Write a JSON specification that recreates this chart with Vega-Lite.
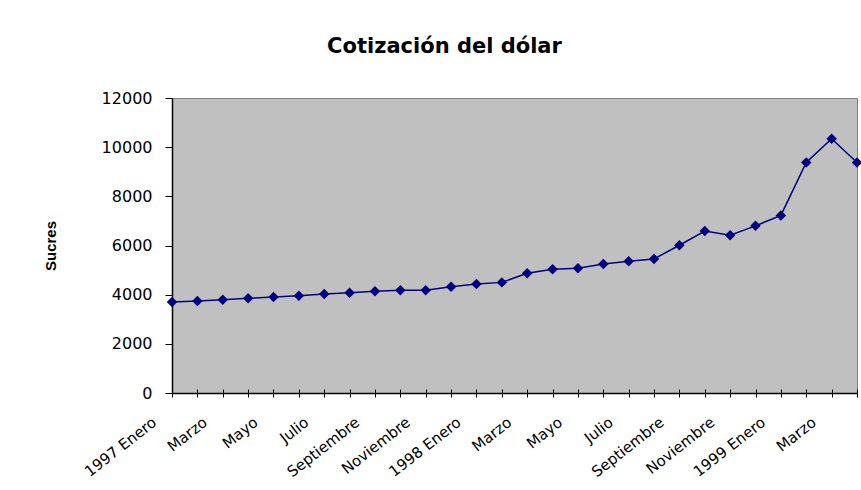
{
  "$schema": "https://vega.github.io/schema/vega-lite/v6.json",
  "autosize": {"type": "none"},
  "width": 685,
  "height": 295,
  "padding": {"left": 172, "top": 98, "right": 4, "bottom": 97},
  "background": "white",
  "title": {
    "text": "Cotización del dólar",
    "font": "DejaVu Sans",
    "fontSize": 21,
    "fontWeight": "bold",
    "color": "black",
    "anchor": "middle",
    "frame": "group",
    "baseline": "alphabetic",
    "offset": 16,
    "dx": -70
  },
  "config": {
    "view": {"fill": "#C0C0C0", "stroke": "#808080", "strokeWidth": 1},
    "axis": {"grid": false}
  },
  "data": {
    "values": [
      {"mes": "1997 Enero", "sucres": 3700},
      {"mes": "1997 Febrero", "sucres": 3740},
      {"mes": "1997 Marzo", "sucres": 3795},
      {"mes": "1997 Abril", "sucres": 3850},
      {"mes": "1997 Mayo", "sucres": 3905},
      {"mes": "1997 Junio", "sucres": 3960},
      {"mes": "1997 Julio", "sucres": 4025},
      {"mes": "1997 Agosto", "sucres": 4080},
      {"mes": "1997 Septiembre", "sucres": 4135},
      {"mes": "1997 Octubre", "sucres": 4175},
      {"mes": "1997 Noviembre", "sucres": 4175},
      {"mes": "1997 Diciembre", "sucres": 4325},
      {"mes": "1998 Enero", "sucres": 4435},
      {"mes": "1998 Febrero", "sucres": 4500},
      {"mes": "1998 Marzo", "sucres": 4870},
      {"mes": "1998 Abril", "sucres": 5035},
      {"mes": "1998 Mayo", "sucres": 5075},
      {"mes": "1998 Junio", "sucres": 5250},
      {"mes": "1998 Julio", "sucres": 5360},
      {"mes": "1998 Agosto", "sucres": 5455},
      {"mes": "1998 Septiembre", "sucres": 6010},
      {"mes": "1998 Octubre", "sucres": 6585},
      {"mes": "1998 Noviembre", "sucres": 6420},
      {"mes": "1998 Diciembre", "sucres": 6800},
      {"mes": "1999 Enero", "sucres": 7225},
      {"mes": "1999 Febrero", "sucres": 9375},
      {"mes": "1999 Marzo", "sucres": 10340},
      {"mes": "1999 Abril", "sucres": 9375}
    ]
  },
  "layer": [
    {
      "mark": {"type": "line", "color": "#000080", "strokeWidth": 1.5},
      "encoding": {
        "x": {
          "field": "mes",
          "type": "ordinal",
          "sort": null,
          "scale": {"type": "point", "padding": 0},
          "axis": {
            "orient": "bottom",
            "title": null,
            "domainColor": "black",
            "domainWidth": 1.5,
            "tickColor": "black",
            "tickWidth": 1,
            "tickSize": 4,
            "labelAngle": -38,
            "labelAlign": "right",
            "labelBaseline": "middle",
            "labelPadding": 23,
            "labelOffset": -18,
            "labelFont": "DejaVu Sans",
            "labelFontSize": 15,
            "labelColor": "black",
            "labelOverlap": false,
            "labelBound": false,
            "labelExpr": "substring(datum.value, 5) == 'Enero' ? datum.value : ((substring(datum.value, 5) == 'Marzo' || substring(datum.value, 5) == 'Mayo' || substring(datum.value, 5) == 'Julio' || substring(datum.value, 5) == 'Septiembre' || substring(datum.value, 5) == 'Noviembre') ? substring(datum.value, 5) : '')"
          }
        },
        "y": {
          "field": "sucres",
          "type": "quantitative",
          "scale": {"domain": [0, 12000], "nice": false},
          "axis": {
            "title": "Sucres",
            "titleFont": "Liberation Sans",
            "titleFontSize": 15,
            "titleFontWeight": "bold",
            "titleColor": "black",
            "titleX": -122,
            "titleBaseline": "middle",
            "values": [0, 2000, 4000, 6000, 8000, 10000, 12000],
            "format": "d",
            "domainColor": "black",
            "domainWidth": 1.5,
            "tickColor": "black",
            "tickWidth": 1,
            "tickSize": 7,
            "labelPadding": 13,
            "labelFont": "DejaVu Sans",
            "labelFontSize": 16,
            "labelColor": "black"
          }
        }
      }
    },
    {
      "mark": {"type": "point", "shape": "diamond", "filled": true, "size": 110, "color": "#000080", "opacity": 1},
      "encoding": {
        "x": {
          "field": "mes",
          "type": "ordinal",
          "sort": null,
          "scale": {"type": "point", "padding": 0},
          "axis": {
            "orient": "bottom",
            "title": null,
            "domain": false,
            "labels": false,
            "tickColor": "black",
            "tickWidth": 1,
            "tickSize": -4
          }
        },
        "y": {"field": "sucres", "type": "quantitative"}
      }
    }
  ],
  "resolve": {"axis": {"x": "independent"}}
}
